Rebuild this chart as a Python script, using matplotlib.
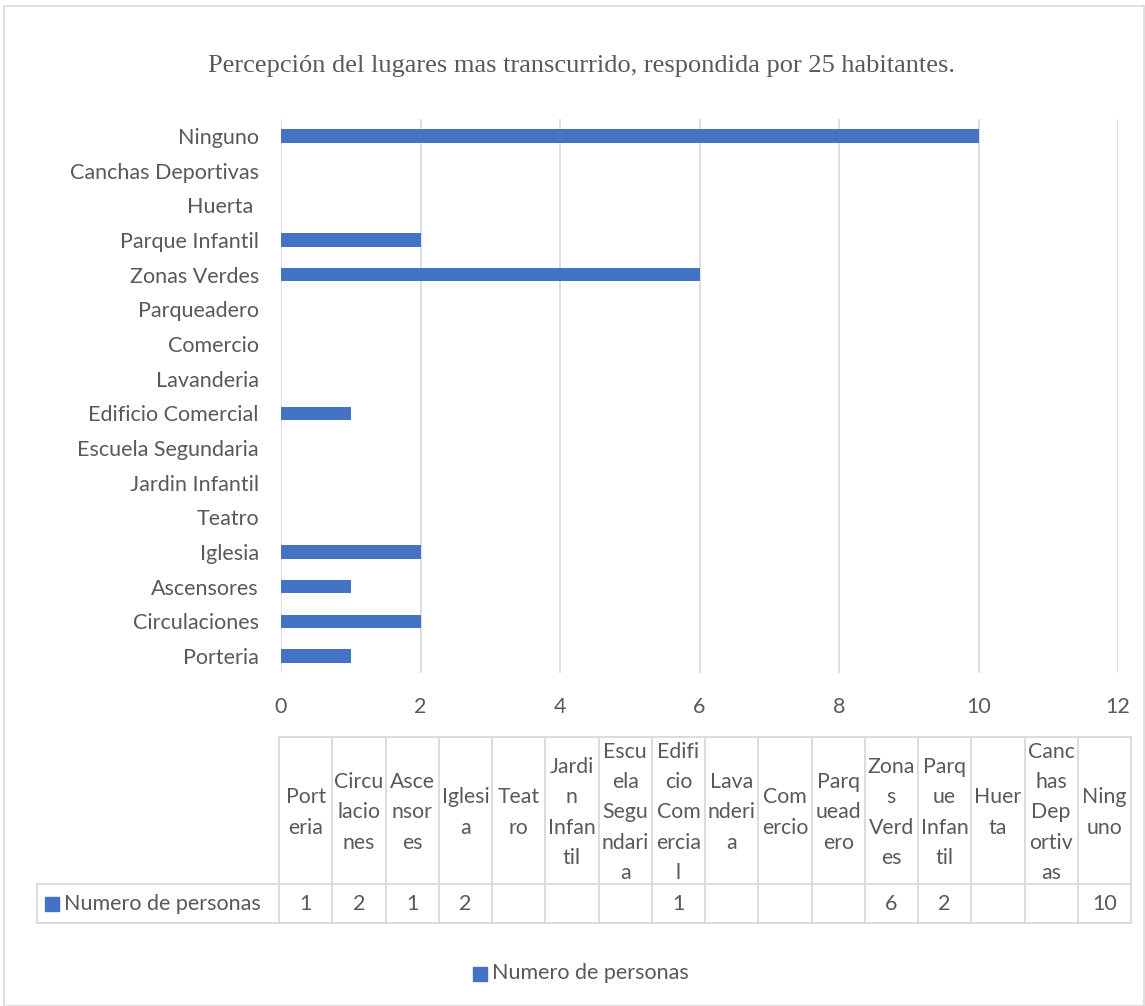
import numpy as np
import matplotlib.pyplot as plt
from matplotlib.patches import Rectangle

# categories in table order (bottom to top on the bar chart)
lugares = ['Porteria', 'Circulaciones', 'Ascensores', 'Iglesia', 'Teatro',
           'Jardin Infantil', 'Escuela Segundaria', 'Edificio Comercial',
           'Lavanderia', 'Comercio', 'Parqueadero', 'Zonas Verdes',
           'Parque Infantil', 'Huerta ', 'Canchas Deportivas', 'Ninguno']
personas = [1, 2, 1, 2, None, None, None, 1, None, None, None, 6, 2, None, None, 10]
# header text as wrapped in the data table
lugares_tabla = ['Port\neria', 'Circu\nlacio\nnes', 'Asce\nnsor\nes', 'Iglesi\na',
                 'Teat\nro', 'Jardi\nn\nInfan\ntil', 'Escu\nela\nSegu\nndari\na',
                 'Edifi\ncio\nCom\nercia\nl', 'Lava\nnderi\na', 'Com\nercio',
                 'Parq\nuead\nero', 'Zona\ns\nVerd\nes', 'Parq\nue\nInfan\ntil',
                 'Huer\nta', 'Canc\nhas\nDep\nortiv\nas', 'Ning\nuno']
serie = 'Numero de personas'
titulo = 'Percepción del lugares mas transcurrido, respondida por 25 habitantes.'
xticks = [0, 2, 4, 6, 8, 10, 12]

W, H = 1145, 1006
gris = '#595959'
linea = '#d9d9d9'
azul = '#4472c4'
fuente = ['Lato', 'DejaVu Sans']

fig = plt.figure(figsize=(W / 100, H / 100), dpi=100)

# chart border
fig.patches.append(Rectangle((4 / W, 0), (W - 5) / W, (H - 6) / H, transform=fig.transFigure,
                             fill=False, edgecolor=linea, lw=1.2))

fig.text(581 / W, 1 - 66 / H, titulo, ha='center', va='center', fontsize=19,
         family='Liberation Serif', color=gris)

# bar chart
x0, x1, y0, y1 = 281, 1118, 118.7, 673.3
ax = fig.add_axes([x0 / W, 1 - y1 / H, (x1 - x0) / W, (y1 - y0) / H])
pos = np.arange(len(lugares))
vals = [v if v is not None else 0 for v in personas]
ax.barh(pos, vals, height=0.38, color=azul, zorder=3)
ax.set_ylim(-0.5, len(lugares) - 0.5)
ax.set_xlim(0, 12)
ax.set_xticks(xticks)
ax.set_yticks(pos)
ax.set_yticklabels(lugares)
ax.grid(axis='x', color=linea, lw=1.2, zorder=0)
for s in ax.spines.values():
    s.set_visible(False)
ax.tick_params(length=0, colors=gris, labelsize=15.5)
ax.tick_params(axis='x', pad=17)
ax.tick_params(axis='y', pad=16)
for t in ax.get_yticklabels() + ax.get_xticklabels():
    t.set_family(fuente)

# data table below
tx0, tx1, ty0, ty1, ty2 = 37, 1131, 737, 884, 923
cx0 = 279
tab = fig.add_axes([0, 0, 1, 1], zorder=-1)
tab.set_xlim(0, W)
tab.set_ylim(H, 0)
tab.axis('off')
n = len(lugares)
cw = (tx1 - cx0) / n
kw = dict(color=linea, lw=1.3)
tab.plot([cx0, tx1], [ty0, ty0], **kw)
tab.plot([tx0, tx1], [ty1, ty1], **kw)
tab.plot([tx0, tx1], [ty2, ty2], **kw)
tab.plot([tx0, tx0], [ty1, ty2], **kw)
for i in range(n + 1):
    tab.plot([cx0 + i * cw] * 2, [ty0, ty2], **kw)
for i, (lab, v) in enumerate(zip(lugares_tabla, personas)):
    cx = cx0 + (i + 0.5) * cw
    tab.text(cx, (ty0 + ty1) / 2 + 2, lab, ha='center', va='center', fontsize=15.3,
             family=fuente, color=gris, linespacing=1.63)
    if v is not None:
        tab.text(cx, (ty1 + ty2) / 2, str(v), ha='center', va='center', fontsize=15.5,
                 family=fuente, color=gris)
tab.add_patch(Rectangle((45, 897), 14, 14, color=azul))
tab.text(64, (ty1 + ty2) / 2, serie, ha='left', va='center', fontsize=15.5,
         family=fuente, color=gris)

# legend
tab.add_patch(Rectangle((473, 967), 14, 14, color=azul))
tab.text(492, 973, serie, ha='left', va='center', fontsize=15.5, family=fuente, color=gris)

fig.savefig('out.png', dpi=100)
